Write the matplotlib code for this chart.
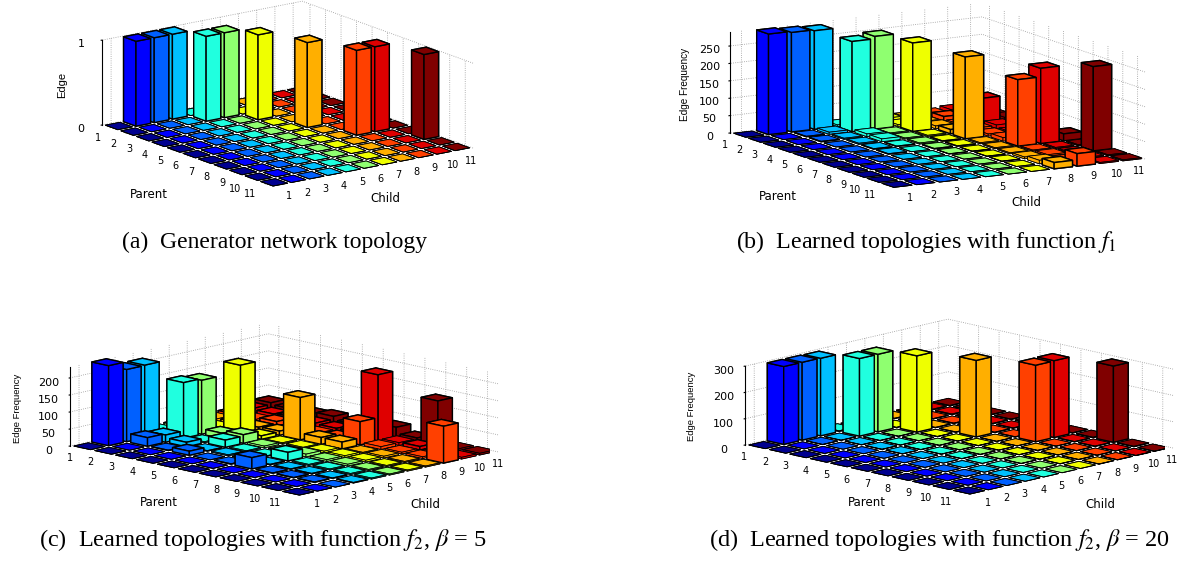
import numpy as np
import matplotlib
matplotlib.use('Agg')
from matplotlib import pyplot as plt
from mpl_toolkits.mplot3d import proj3d

plt.rcParams['font.family'] = ['DejaVu Sans']
plt.rcParams['mathtext.fontset'] = 'stix'

labels = list(range(1, 12))

# rows are Parent 1..11, columns are Child 1..11
heights_a = [
    [0, 1, 1, 1, 0, 0, 0, 0, 0, 0, 0],
    [0, 0, 0, 0, 1, 1, 0, 0, 0, 0, 0],
    [0, 0, 0, 0, 0, 0, 1, 0, 0, 0, 0],
    [0, 0, 0, 0, 0, 0, 0, 0, 0, 0, 0],
    [0, 0, 0, 0, 0, 0, 0, 1, 0, 0, 0],
    [0, 0, 0, 0, 0, 0, 0, 0, 0, 0, 0],
    [0, 0, 0, 0, 0, 0, 0, 0, 1, 1, 0],
    [0, 0, 0, 0, 0, 0, 0, 0, 0, 0, 0],
    [0, 0, 0, 0, 0, 0, 0, 0, 0, 0, 1],
    [0, 0, 0, 0, 0, 0, 0, 0, 0, 0, 0],
    [0, 0, 0, 0, 0, 0, 0, 0, 0, 0, 0],
]
heights_b = [
    [0, 289, 286, 283, 5, 5, 8, 4, 6, 10, 4],
    [0, 0, 2, 6, 259, 266, 5, 6, 13, 8, 4],
    [0, 0, 2, 3, 8, 3, 254, 8, 6, 72, 10],
    [0, 0, 0, 3, 8, 3, 3, 12, 8, 10, 8],
    [0, 0, 0, 2, 2, 3, 2, 235, 6, 4, 3],
    [0, 0, 0, 2, 0, 2, 2, 3, 10, 4, 3],
    [0, 0, 0, 0, 0, 1, 1, 3, 191, 216, 20],
    [0, 0, 0, 0, 0, 0, 1, 3, 3, 3, 3],
    [0, 0, 0, 0, 0, 0, 1, 5, 4, 3, 242],
    [0, 0, 0, 0, 0, 0, 0, 10, 3, 3, 3],
    [0, 0, 0, 0, 0, 0, 0, 18, 36, 3, 3],
]
heights_c = [
    [0, 235, 212, 213, 8, 10, 5, 8, 10, 15, 20],
    [0, 0, 25, 21, 163, 158, 8, 10, 8, 12, 15],
    [0, 0, 2, 13, 3, 16, 204, 10, 15, 15, 15],
    [0, 0, 12, 2, 21, 25, 10, 12, 8, 12, 20],
    [0, 0, 0, 3, 3, 5, 3, 124, 8, 10, 10],
    [0, 0, 2, 2, 2, 2, 3, 20, 10, 10, 15],
    [0, 0, 33, 2, 25, 8, 5, 20, 68, 194, 28],
    [0, 0, 2, 2, 3, 5, 5, 3, 8, 8, 10],
    [0, 0, 2, 2, 3, 5, 5, 5, 5, 10, 132],
    [0, 0, 2, 2, 3, 3, 3, 3, 5, 5, 5],
    [0, 0, 0, 2, 3, 3, 3, 3, 108, 5, 5],
]
heights_d = [
    [0, 296, 296, 295, 3, 2, 2, 2, 3, 3, 2],
    [0, 0, 1, 1, 295, 295, 1, 2, 2, 3, 2],
    [0, 0, 0, 1, 1, 1, 290, 2, 2, 2, 2],
    [0, 0, 0, 1, 1, 1, 1, 2, 2, 2, 2],
    [0, 0, 0, 1, 1, 1, 1, 291, 2, 2, 2],
    [0, 0, 0, 0, 1, 1, 1, 1, 2, 2, 2],
    [0, 0, 0, 0, 1, 1, 1, 1, 291, 292, 2],
    [0, 0, 0, 0, 0, 1, 1, 1, 1, 2, 2],
    [0, 0, 0, 0, 0, 1, 1, 1, 1, 2, 290],
    [0, 0, 0, 0, 0, 0, 1, 1, 1, 1, 2],
    [0, 0, 0, 0, 0, 0, 0, 1, 1, 1, 1],
]

child_colors = ['#00008f', '#0000ff', '#0060ff', '#00c0ff', '#20ffdf', '#8fff70',
                '#efff00', '#ffaf00', '#ff4000', '#df0000', '#800000']

captions = ['(a)  Generator network topology',
            '(b)  Learned topologies with function $f_1$',
            '(c)  Learned topologies with function $f_2$, $\\beta$ = 5',
            '(d)  Learned topologies with function $f_2$, $\\beta$ = 20']
caption_sizes = [17, 17.3, 17.5, 17.5]
z_titles = ['Edge', 'Edge Frequency', 'Edge Frequency', 'Edge Frequency']
z_title_sizes = [8, 7.2, 6.8, 6.8]
z_ticks = [[0, 1], [0, 50, 100, 150, 200, 250], [0, 50, 100, 150, 200], [0, 100, 200, 300]]
z_tops = [1, 290, 232, 300]

# per panel layout, all in pixels of the final image
elevs = [15.4, 11.4, 12.7, 13.1]
azims = [-36.2, -30.3, -45.3, -45.6]
box_sizes = [(289, 248, 88), (323, 292, 103), (323, 282, 81), (315, 290, 81)]
left_corners = [(102, 125), (730, 133), (70, 446), (745, 445)]
right_corners = [(473, 148), (1145, 159), (498, 452), (1173, 448)]
caption_xy = [(275, 242), (926, 242), (263, 540), (939, 540)]
parent_xy = [(149, 194), (778, 196), (159, 502), (867, 502)]
child_xy = [(385, 199), (1026, 202), (425, 504), (1100, 504)]
ztitle_xy = [(62, 85), (685, 84), (17, 408), (692, 406)]

W, H = 1200, 561
fig = plt.figure(figsize=(W / 100, H / 100), dpi=100)


def place(ax, left, right):
    # put the axes so the floor's left and right corners land on the given pixels
    M = ax.get_proj()
    pts = []
    for x, y in [(0.5, 0.5), (11.5, 11.5)]:
        xp, yp, _ = proj3d.proj_transform(x, y, 0, M)
        pts.append((xp, yp))
    ax.set_position([0.1, 0.1, 0.5, 0.5 * W / H])
    ax.apply_aspect()
    fr = ax.transAxes.inverted().transform(ax.transData.transform(pts))
    S = (right[0] - left[0]) / (fr[1][0] - fr[0][0])
    x0 = left[0] - fr[0][0] * S
    y0 = (H - left[1]) - fr[0][1] * S
    ax.set_position([x0 / W, y0 / H, S / W, S / H])


for i, heights in enumerate([heights_a, heights_b, heights_c, heights_d]):
    ax = fig.add_subplot(2, 2, i + 1, projection='3d', computed_zorder=False)
    ax.set_proj_type('ortho')
    ax.view_init(elev=elevs[i], azim=azims[i])
    ax.set_box_aspect(box_sizes[i])
    ax.patch.set_visible(False)

    # far bars first, so the painter's order is right
    z = 1
    for p in range(11):
        for c in range(10, -1, -1):
            h = heights[p][c]
            lw = 1.0 if h > 0.04 * z_tops[i] else 0.6
            ax.bar3d(p + 0.6, c + 0.6, 0, 0.8, 0.8, h, color=child_colors[c],
                     edgecolor='black', linewidth=lw, shade=False, zorder=z)
            z += 1

    ax.set_xlim(0.5, 11.5)
    ax.set_ylim(0.5, 11.5)
    ax.set_zlim(0, z_tops[i])
    ax.set_xticks(np.arange(1, 12))
    ax.set_yticks(np.arange(1, 12))
    ax.set_zticks(z_ticks[i])
    ax.set_xticklabels(labels, ha='right')
    ax.set_yticklabels(labels)
    ax.tick_params(axis='x', labelsize=7, pad=-2)
    ax.tick_params(axis='y', labelsize=7, pad=-2)
    ax.tick_params(axis='z', labelsize=8, pad=0)
    ax.zaxis.set_ticks_position('lower')

    for axis in (ax.xaxis, ax.yaxis, ax.zaxis):
        axis.pane.set_visible(False)
        axis._axinfo['grid'].update(color='#999999', linestyle=':', linewidth=0.6)
    for axis in (ax.xaxis, ax.yaxis):
        axis.line.set_color((0, 0, 0, 0))
        axis._axinfo['tick']['inward_factor'] = 0
        axis._axinfo['tick']['outward_factor'] = 0
    ax.zaxis.line.set_color('black')
    ax.zaxis._axinfo['tick']['inward_factor'] = 0.05
    ax.zaxis._axinfo['tick']['outward_factor'] = 0

    place(ax, left_corners[i], right_corners[i])

    fig.text(parent_xy[i][0] / W, 1 - parent_xy[i][1] / H, 'Parent', fontsize=8.5, ha='center', va='center')
    fig.text(child_xy[i][0] / W, 1 - child_xy[i][1] / H, 'Child', fontsize=8.5, ha='center', va='center')
    fig.text(ztitle_xy[i][0] / W, 1 - ztitle_xy[i][1] / H, z_titles[i], fontsize=z_title_sizes[i], rotation=90,
             family='Liberation Sans', ha='center', va='center')
    fig.text(caption_xy[i][0] / W, 1 - caption_xy[i][1] / H, captions[i], fontsize=caption_sizes[i],
             family='Liberation Serif', ha='center', va='center')

fig.savefig('out.png', dpi=100)
